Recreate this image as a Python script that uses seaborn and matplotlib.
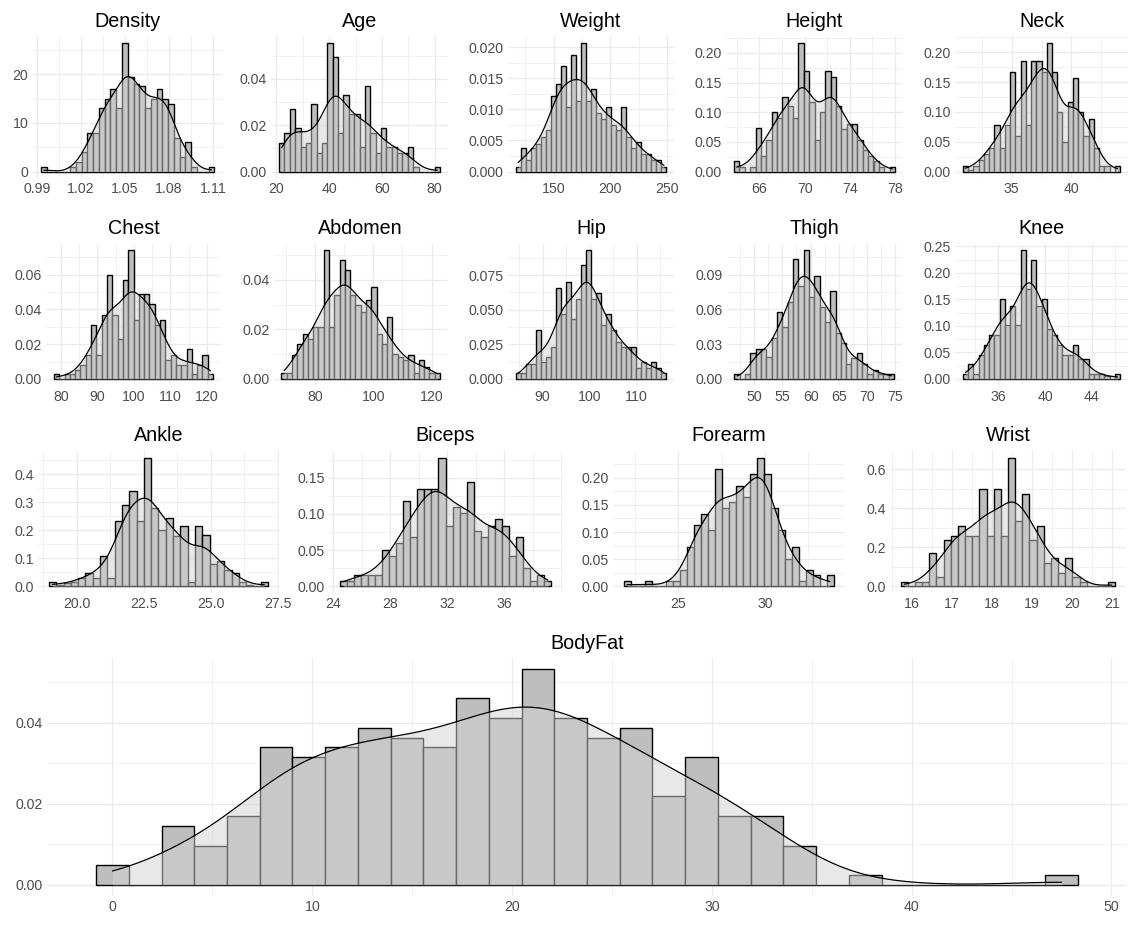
import numpy as np
import pandas as pd
import seaborn as sns
import matplotlib
matplotlib.use("Agg")
import matplotlib.pyplot as plt
from matplotlib.ticker import FixedLocator, FixedFormatter, AutoMinorLocator

# ---------------- data ----------------
# each variable: [min, max] (first / last bin centre), 30 bar heights (density), ticks
density_range = [0.995, 1.1089]
density_heights = [1, 0, 0, 0, 0, 1, 2, 4, 8, 8, 13, 15, 17, 13, 26.5, 19.5, 18, 17.5, 13, 15,
                   17, 15, 14, 7, 3, 6, 1, 0, 0, 1]
density_xticks = [0.99, 1.02, 1.05, 1.08, 1.11]
density_yticks = [0, 10, 20]

age_range = [22, 81]
age_heights = [0.0123, 0.0165, 0.0268, 0.0186, 0.0105, 0.0125, 0.029, 0.0082, 0.0125, 0.0555,
               0.0495, 0.0165, 0.033, 0.025, 0.025, 0.0105, 0.037, 0.0165, 0.0082, 0.0186,
               0.0105, 0.0105, 0.0082, 0.0082, 0.0105, 0.002, 0, 0, 0, 0.002]
age_xticks = [20, 40, 60, 80]
age_yticks = [0, 0.02, 0.04]

weight_range = [118.5, 247.25]
weight_heights = [0.0008, 0.0038, 0.0018, 0.0038, 0.0045, 0.0056, 0.0066, 0.0122, 0.0141, 0.017,
                  0.0103, 0.0188, 0.0113, 0.0207, 0.0113, 0.0132, 0.0094, 0.0085, 0.0103, 0.0075,
                  0.0066, 0.0103, 0.0056, 0.0038, 0.0047, 0.0028, 0.0028, 0.0019, 0.0019, 0.0008]
weight_xticks = [150, 200, 250]
weight_yticks = [0, 0.005, 0.01, 0.015, 0.02]

height_range = [64, 77.75]
height_heights = [0.018, 0.008, 0, 0.008, 0.073, 0.027, 0.054, 0.10, 0.09, 0.125,
                  0.11, 0.09, 0.217, 0.17, 0.117, 0.054, 0.10, 0.17, 0.16, 0.11,
                  0.072, 0.08, 0.08, 0.054, 0.036, 0.027, 0.018, 0.008, 0, 0.008]
height_xticks = [66, 70, 74, 78]
height_yticks = [0, 0.05, 0.1, 0.15, 0.2]

neck_range = [31.1, 43.9]
neck_heights = [0.01, 0.003, 0.01, 0.02, 0.03, 0.04, 0.078, 0.04, 0.078, 0.167,
                0.06, 0.185, 0.078, 0.185, 0.185, 0.167, 0.216, 0.167, 0.10, 0.05,
                0.117, 0.157, 0.10, 0.06, 0.088, 0.04, 0.01, 0.01, 0, 0.01]
neck_xticks = [35, 40]
neck_yticks = [0, 0.05, 0.1, 0.15, 0.2]

chest_range = [78.8, 121.0]
chest_heights = [0.0027, 0, 0.0027, 0.0027, 0.0054, 0.0082, 0.0136, 0.031, 0.0136, 0.037,
                 0.06, 0.037, 0.023, 0.057, 0.074, 0.034, 0.049, 0.049, 0.043, 0.031,
                 0.034, 0.0109, 0.0136, 0.0082, 0.0082, 0.017, 0.0027, 0.0082, 0.0136, 0.0027]
chest_xticks = [80, 90, 100, 110, 120]
chest_yticks = [0, 0.02, 0.04, 0.06]

abdomen_range = [69.4, 122.0]
abdomen_heights = [0.0025, 0.0025, 0.0095, 0.014, 0.018, 0.016, 0.021, 0.021, 0.052, 0.021,
                   0.034, 0.048, 0.044, 0.034, 0.030, 0.027, 0.032, 0.037, 0.018, 0.014,
                   0.025, 0.010, 0.009, 0.0075, 0.0095, 0.0025, 0.0075, 0.005, 0.0025, 0.0025]
abdomen_xticks = [80, 100, 120]
abdomen_yticks = [0, 0.02, 0.04]

hip_range = [84.8, 115.8]
hip_heights = [0.004, 0.004, 0.011, 0.011, 0.035, 0.012, 0.016, 0.023, 0.066, 0.047,
               0.070, 0.043, 0.058, 0.082, 0.093, 0.058, 0.062, 0.039, 0.047, 0.035,
               0.027, 0.023, 0.023, 0.023, 0.008, 0.012, 0.008, 0.012, 0.008, 0.004]
hip_xticks = [90, 100, 110]
hip_yticks = [0, 0.025, 0.05, 0.075]

thigh_range = [47.0, 74.3]
thigh_heights = [0.004, 0, 0.004, 0.022, 0.026, 0.026, 0.019, 0.035, 0.058, 0.045,
                 0.066, 0.103, 0.080, 0.111, 0.071, 0.089, 0.062, 0.049, 0.076, 0.040,
                 0.031, 0.013, 0.018, 0.022, 0.013, 0.004, 0.008, 0.004, 0.004, 0.004]
thigh_xticks = [50, 55, 60, 65, 70, 75]
thigh_yticks = [0, 0.03, 0.06, 0.09]

knee_range = [33.2, 46.2]
knee_heights = [0.01, 0.029, 0.01, 0.046, 0.064, 0.083, 0.083, 0.150, 0.102, 0.138,
                0.102, 0.243, 0.170, 0.224, 0.138, 0.150, 0.094, 0.083, 0.064, 0.046,
                0.046, 0.064, 0.037, 0.037, 0.01, 0.01, 0.01, 0.005, 0, 0.01]
knee_xticks = [36, 40, 44]
knee_yticks = [0, 0.05, 0.1, 0.15, 0.2, 0.25]

ankle_range = [19.1, 27.0]
ankle_heights = [0.015, 0.004, 0.012, 0.015, 0.03, 0.047, 0.03, 0.108, 0.03, 0.232,
                 0.29, 0.34, 0.232, 0.46, 0.28, 0.20, 0.245, 0.18, 0.215, 0.015,
                 0.215, 0.185, 0.08, 0.09, 0.06, 0.047, 0.015, 0.004, 0, 0.015]
ankle_xticks = [20.0, 22.5, 25.0, 27.5]
ankle_yticks = [0, 0.1, 0.2, 0.3, 0.4]

biceps_range = [24.7, 39.05]
biceps_heights = [0.008, 0.008, 0.016, 0.016, 0.016, 0.016, 0.05, 0.042, 0.06, 0.118,
                  0.068, 0.135, 0.135, 0.135, 0.178, 0.084, 0.11, 0.101, 0.144, 0.076,
                  0.068, 0.084, 0.093, 0.084, 0.042, 0.068, 0.025, 0.008, 0.016, 0.008]
biceps_xticks = [24, 28, 32, 36]
biceps_yticks = [0, 0.05, 0.1, 0.15]

forearm_range = [22.05, 33.75]
forearm_heights = [0.01, 0, 0, 0.01, 0, 0, 0.01, 0.01, 0.03, 0.072,
                   0.113, 0.134, 0.103, 0.216, 0.145, 0.155, 0.185, 0.165, 0.206, 0.237,
                   0.206, 0.145, 0.103, 0.05, 0.072, 0.01, 0.03, 0.02, 0, 0.02]
forearm_xticks = [25, 30]
forearm_yticks = [0, 0.05, 0.1, 0.15, 0.2]

wrist_range = [15.8, 21.0]
wrist_heights = [0.023, 0, 0.023, 0.023, 0.17, 0.05, 0.24, 0.26, 0.31, 0.26,
                 0.26, 0.5, 0.26, 0.5, 0.26, 0.66, 0.335, 0.475, 0.24, 0.31,
                 0.12, 0.145, 0.07, 0.145, 0.05, 0.023, 0, 0, 0, 0.023]
wrist_xticks = [16, 17, 18, 19, 20, 21]
wrist_yticks = [0, 0.2, 0.4, 0.6]

bodyfat_range = [0, 47.5]
bodyfat_heights = [0.0048, 0, 0.0145, 0.0097, 0.017, 0.0339, 0.0315, 0.0339, 0.0387, 0.0363,
                   0.0339, 0.046, 0.0411, 0.0532, 0.0411, 0.0363, 0.0387, 0.0218, 0.0315, 0.0169,
                   0.0169, 0.0097, 0, 0.0024, 0, 0, 0, 0, 0, 0.0024]
bodyfat_xticks = [0, 10, 20, 30, 40, 50]
bodyfat_yticks = [0, 0.02, 0.04]

n_obs = 252

# ---------------- style ----------------
sns.set_theme(style="white")
plt.rcParams["font.family"] = ["Liberation Sans", "DejaVu Sans"]

W, H = 1129, 925
fig = plt.figure(figsize=(W / 100, H / 100), dpi=100)
fig.patch.set_facecolor("white")

BAR_FILL = "#BEBEBE"
KDE_FILL = "#D3D3D3"
GRID = "#EBEBEB"
TICK_COL = "#4D4D4D"


def fmt(ticks):
    dec = 0
    for t in ticks:
        s = repr(float(t))
        if "." in s:
            frac = s.split(".")[1].rstrip("0")
            dec = max(dec, len(frac))
    return [f"{t:.{dec}f}" for t in ticks]


def add_axes(l, t, r, b):
    return fig.add_axes([l / W, 1 - b / H, (r - l) / W, (b - t) / H])


def panel(ax, title, rng, heights, xticks, yticks):
    lo, hi = rng
    h = np.asarray(heights, float)
    nb = len(h)
    w = (hi - lo) / (nb - 1)
    centers = lo + w * np.arange(nb)
    e0, e1 = lo - w / 2, hi + w / 2
    df = pd.DataFrame({"x": centers, "w": h})

    # bandwidth like R's bw.nrd0 (0.9 * min(sd, IQR/1.34) * n^-0.2)
    p = h / h.sum()
    mean = (p * centers).sum()
    sd = np.sqrt((p * (centers - mean) ** 2).sum())
    cdf = np.cumsum(p) - p / 2
    q1, q3 = np.interp([0.25, 0.75], cdf, centers)
    spread = min(sd, (q3 - q1) / 1.34)
    factor = 0.9 * spread / sd * n_obs ** (-0.2)

    # bars at the read heights, density curve scaled to the same area
    sns.histplot(data=df, x="x", weights="w", bins=nb, binrange=(e0, e1), stat="count",
                 color=BAR_FILL, alpha=1, edgecolor="black", linewidth=1.0,
                 kde=True, kde_kws=dict(bw_method=factor, cut=0, gridsize=300),
                 line_kws=dict(linewidth=0.9, zorder=3), ax=ax)
    line = ax.lines[-1]
    line.set_color("black")
    lx, ly = line.get_data()
    ax.fill_between(lx, 0, ly, color=KDE_FILL, alpha=0.5, linewidth=0, zorder=2)

    R = e1 - e0
    ax.set_xlim(e0 - 0.05 * R, e1 + 0.05 * R)
    ymax = max(h.max(), np.max(ly))
    ax.set_ylim(-0.05 * ymax, 1.05 * ymax)

    ax.xaxis.set_major_locator(FixedLocator(xticks))
    ax.xaxis.set_major_formatter(FixedFormatter(fmt(xticks)))
    ax.yaxis.set_major_locator(FixedLocator(yticks))
    ax.yaxis.set_major_formatter(FixedFormatter(fmt(yticks)))
    ax.xaxis.set_minor_locator(AutoMinorLocator(2))
    ax.yaxis.set_minor_locator(AutoMinorLocator(2))
    ax.grid(which="major", color=GRID, linewidth=1.0)
    ax.grid(which="minor", color=GRID, linewidth=0.5)
    ax.set_axisbelow(True)
    for s in ax.spines.values():
        s.set_visible(False)
    ax.tick_params(which="both", length=0, labelsize=10.2, labelcolor=TICK_COL, pad=3)
    ax.set_xlabel("")
    ax.set_ylabel("")
    ax.set_facecolor("white")
    ax.set_title(title, fontsize=14.2, pad=7, color="black")


specs = [
    ("Density", density_range, density_heights, density_xticks, density_yticks),
    ("Age", age_range, age_heights, age_xticks, age_yticks),
    ("Weight", weight_range, weight_heights, weight_xticks, weight_yticks),
    ("Height", height_range, height_heights, height_xticks, height_yticks),
    ("Neck", neck_range, neck_heights, neck_xticks, neck_yticks),
    ("Chest", chest_range, chest_heights, chest_xticks, chest_yticks),
    ("Abdomen", abdomen_range, abdomen_heights, abdomen_xticks, abdomen_yticks),
    ("Hip", hip_range, hip_heights, hip_xticks, hip_yticks),
    ("Thigh", thigh_range, thigh_heights, thigh_xticks, thigh_yticks),
    ("Knee", knee_range, knee_heights, knee_xticks, knee_yticks),
    ("Ankle", ankle_range, ankle_heights, ankle_xticks, ankle_yticks),
    ("Biceps", biceps_range, biceps_heights, biceps_xticks, biceps_yticks),
    ("Forearm", forearm_range, forearm_heights, forearm_xticks, forearm_yticks),
    ("Wrist", wrist_range, wrist_heights, wrist_xticks, wrist_yticks),
    ("BodyFat", bodyfat_range, bodyfat_heights, bodyfat_xticks, bodyfat_yticks),
]

# panel boxes in pixels: (left, top, right, bottom)
row_top = [0, 207.4, 414.8, 622.2]
PT, PB = 36.3, 178.0
boxes = []
r1_left = [32.5, 271, 508, 726, 955]
r1_right = [223, 448, 674, 903, 1128]
r2_left = [46, 273.5, 508, 726.5, 955]
r2_right = [221, 448, 674, 902, 1128]
for l, r in zip(r1_left, r1_right):
    boxes.append((l, row_top[0] + PT, r, row_top[0] + PB))
for l, r in zip(r2_left, r2_right):
    boxes.append((l, row_top[1] + PT, r, row_top[1] + PB))
r3_left = [38, 329, 613, 890]
r3_right = [279, 562, 844, 1126]
for l, r in zip(r3_left, r3_right):
    boxes.append((l, row_top[2] + PT, r, row_top[2] + PB))
boxes.append((47, row_top[3] + PT, 1127, H - (207.4 - PB)))

for (title, rng, hts, xt, yt), box in zip(specs, boxes):
    ax = add_axes(*box)
    panel(ax, title, rng, hts, xt, yt)

fig.savefig("out.png", dpi=100, facecolor="white")
